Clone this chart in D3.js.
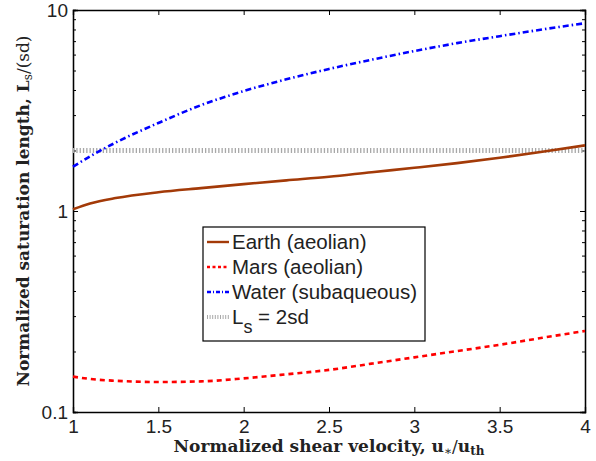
<!DOCTYPE html>
<html>
<head>
<meta charset="utf-8">
<script src="https://cdn.jsdelivr.net/npm/d3@7"></script>
<style>
  body { margin: 0; background: #fff; }
  .tick text { font-family: "Liberation Sans", Arial, sans-serif; font-size: 19px; fill: #222; }
  .lbl { font-family: "DejaVu Serif", serif; font-weight: bold; font-size: 17px; fill: #222; }
  .leg { font-family: "Liberation Sans", Arial, sans-serif; font-size: 20.5px; fill: #222; }
</style>
</head>
<body>
<div id="chart"></div>
<script>
// values
const uStar = [1.0, 1.1, 1.25, 1.5, 1.75, 2.0, 2.25, 2.5, 2.75, 3.0, 3.25, 3.5, 3.75, 4.0];
const earth = [1.02, 1.09, 1.16, 1.24, 1.30, 1.36, 1.42, 1.48, 1.56, 1.64, 1.73, 1.84, 1.97, 2.12];
const mars  = [0.150, 0.146, 0.143, 0.141, 0.142, 0.147, 0.154, 0.162, 0.174, 0.187, 0.201, 0.216, 0.234, 0.253];
const water = [1.66, 1.87, 2.19, 2.74, 3.36, 3.95, 4.52, 5.09, 5.66, 6.25, 6.84, 7.41, 8.00, 8.60];
const refLine = [2, 2];
const xTicks = [1, 1.5, 2, 2.5, 3, 3.5, 4];
const yTicks = [0.1, 1, 10];

const W = 596, H = 461;
const margin = { top: 10, right: 11, bottom: 49, left: 73 };
const width = W - margin.left - margin.right;
const height = H - margin.top - margin.bottom;

const svg = d3.select("#chart").append("svg")
  .attr("width", W).attr("height", H);
const g = svg.append("g").attr("transform", `translate(${margin.left},${margin.top})`);

const x = d3.scaleLinear().domain([1, 4]).range([0, width]);
const y = d3.scaleLog().domain([0.1, 10]).range([height, 0]);

// minor log ticks
const minor = [];
for (const dec of [0.1, 1]) for (let k = 2; k <= 9; k++) minor.push(dec * k);

// axes (MATLAB style inward ticks)
g.append("g").attr("transform", `translate(0,${height})`)
  .call(d3.axisBottom(x).tickValues(xTicks).tickFormat(d3.format("")).tickSize(-5).tickPadding(8));
g.append("g")
  .call(d3.axisTop(x).tickValues(xTicks).tickFormat("").tickSize(-5));
g.append("g")
  .call(d3.axisLeft(y).tickValues(yTicks).tickFormat(d => d === 0.1 ? "0.1" : d3.format("")(d)).tickSize(-5).tickPadding(5));
g.append("g")
  .call(d3.axisLeft(y).tickValues(minor).tickFormat("").tickSize(-3));
g.append("g").attr("transform", `translate(${width},0)`)
  .call(d3.axisRight(y).tickValues(yTicks).tickFormat("").tickSize(-5));
g.append("g").attr("transform", `translate(${width},0)`)
  .call(d3.axisRight(y).tickValues(minor).tickFormat("").tickSize(-3));
g.selectAll(".domain").attr("stroke", "#000").attr("stroke-width", 1.3);
g.selectAll(".tick line").attr("stroke", "#000");

const line = d3.line().x(d => x(d[0])).y(d => y(d[1])).curve(d3.curveMonotoneX);

// reference line Ls = 2sd
g.append("path")
  .datum([[1, refLine[0]], [4, refLine[1]]])
  .attr("d", line).attr("fill", "none")
  .attr("stroke", "#a8a8a8").attr("stroke-width", 5).attr("stroke-dasharray", "1.3,2");

const series = [
  { name: "Earth (aeolian)", vals: earth, color: "#a33a08", w: 2.6, dash: null },
  { name: "Mars (aeolian)", vals: mars, color: "#ff0000", w: 2.6, dash: "5,4" },
  { name: "Water (subaqueous)", vals: water, color: "#0000ff", w: 2.6, dash: "6,3,1.5,3" }
];

series.forEach(s => {
  g.append("path")
    .datum(uStar.map((u, i) => [u, s.vals[i]]))
    .attr("d", line).attr("fill", "none")
    .attr("stroke", s.color).attr("stroke-width", s.w)
    .attr("stroke-dasharray", s.dash);
});

// legend
const leg = svg.append("g").attr("transform", "translate(203,227)");
leg.append("rect").attr("width", 222).attr("height", 114)
  .attr("fill", "#fff").attr("stroke", "#000").attr("stroke-width", 1.2);
const items = series.concat([{ name: "Ls", color: "#a8a8a8", w: 4, dash: "1,1.6" }]);
items.forEach((s, i) => {
  const yy = 15 + i * 25;
  leg.append("line").attr("x1", 4).attr("x2", 26).attr("y1", yy).attr("y2", yy)
    .attr("stroke", s.color).attr("stroke-width", i === 3 ? 4 : 2.4)
    .attr("stroke-dasharray", i === 0 ? null : (i === 1 ? "3,2.5" : (i === 2 ? "4,2,1,2" : "1,1.6")));
  const t = leg.append("text").attr("class", "leg").attr("x", 29).attr("y", yy + 7);
  if (i === 3) {
    t.append("tspan").text("L");
    t.append("tspan").attr("dy", 9).attr("font-size", 18).text("s");
    t.append("tspan").attr("dy", -9).text(" = 2sd");
  } else {
    t.text(s.name);
  }
});

// axis labels
const xl = svg.append("text").attr("class", "lbl")
  .attr("x", margin.left + width / 2).attr("y", 452).attr("text-anchor", "middle");
xl.append("tspan").text("Normalized shear velocity, ");
xl.append("tspan").text("u");
xl.append("tspan").attr("dy", 3).attr("font-size", 12).attr("font-weight", "normal").text("∗");
xl.append("tspan").attr("dy", -3).attr("font-weight", "normal").text("/");
xl.append("tspan").text("u");
xl.append("tspan").attr("dy", 3).attr("font-size", 12).text("th");

const yl = svg.append("text").attr("class", "lbl")
  .attr("transform", `translate(29,${margin.top + height / 2}) rotate(-90)`)
  .attr("text-anchor", "middle");
yl.append("tspan").text("Normalized saturation length, L");
yl.append("tspan").attr("dy", 3).attr("font-size", 12).attr("font-weight", "normal").text("s");
yl.append("tspan").attr("dy", -3).attr("font-weight", "normal").text("/(sd)");
</script>
</body>
</html>
